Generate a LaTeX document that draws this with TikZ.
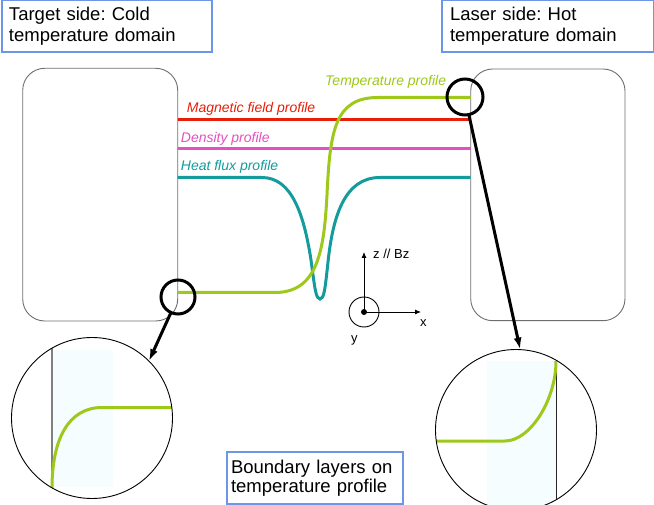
\documentclass[tikz,border=0pt]{standalone}
\usepackage{fontspec}
\setmainfont{Liberation Sans}
\usetikzlibrary{arrows.meta}
\definecolor{greenp}{RGB}{158,200,26}
\definecolor{redp}{RGB}{232,30,10}
\definecolor{magp}{RGB}{228,80,190}
\definecolor{tealp}{RGB}{20,155,155}
\definecolor{boxblue}{RGB}{110,150,232}
\definecolor{slabgray}{RGB}{110,110,110}
\definecolor{shadep}{RGB}{246,253,254}
\frenchspacing
\begin{document}
\begin{tikzpicture}[x=1pt,y=-1pt,
  infobox/.style={draw=boxblue, line width=1.2pt, align=left, inner xsep=7pt, inner ysep=0pt, outer sep=0pt, anchor=north west},
  slab/.style={draw=slabgray, line width=0.9pt, rounded corners=22pt, inner sep=0pt, outer sep=0pt},
  prof/.style={line width=3pt},
  lbl/.style={font=\fontsize{14}{16}\selectfont\itshape, inner sep=0pt, anchor=base west},
  lens/.style={draw, circle, line width=3pt, inner sep=0pt, outer sep=0pt},
  bigc/.style={draw, circle, line width=0.9pt, inner sep=0pt, outer sep=0pt, minimum size=161pt},
  bigarrow/.style={line width=3pt, -{Latex[length=12pt,width=8pt]}},
  axarrow/.style={line width=0.9pt, -{Latex[length=6pt,width=5pt]}},
  axlbl/.style={font=\fontsize{13}{15}\selectfont, inner sep=0pt, anchor=base west}
]
\useasboundingbox (0,0) rectangle (654,505);

% title boxes
\node[infobox, minimum width=210pt, minimum height=51.5pt, text width=196pt,
      font=\fontsize{18.5}{21.6}\selectfont] (tbox) at (2,0.5) {Target side: Cold\\temperature domain};
\node[infobox, minimum width=212pt, minimum height=51.5pt, text width=196pt, inner xsep=8pt,
      font=\fontsize{18.5}{21.6}\selectfont] (lbox) at (442,0.5) {Laser side: Hot\\temperature domain};
\node[infobox, minimum width=176pt, minimum height=52pt, text width=168pt, inner xsep=4pt,
      font=\fontsize{18.5}{19.5}\selectfont] (bbox) at (227,452) {Boundary layers on\\temperature profile};

% slabs
\node[slab, minimum width=155pt, minimum height=252.7pt] (lslab) at (100.2,194.65) {};
\node[slab, minimum width=154.3pt, minimum height=251.7pt] (rslab) at (547.85,194.85) {};

\coordinate (ymag) at (0,120);
\coordinate (yden) at (0,149);
\coordinate (yheat) at (0,177.5);
\coordinate (ytemp) at (0,97.5);
\coordinate (ylow) at (0,292.5);

% profiles
\draw[prof, redp] (lslab.east |- ymag) -- (rslab.west |- ymag);
\draw[prof, magp] (lslab.east |- yden) -- (rslab.west |- yden);
\draw[prof, tealp] (lslab.east |- yheat) -- (262,177.5)
  .. controls (292,177.5) and (304,215) .. (311,260)
  .. controls (315,290) and (316,299) .. (320,299)
  .. controls (324,299) and (325,290) .. (328,262)
  .. controls (333,215) and (345,177.5) .. (380,177.5)
  -- (rslab.west |- yheat);
\draw[prof, greenp] (lslab.east |- ylow) -- (275,292.5)
  .. controls (318,292.5) and (324,250) .. (327,195)
  .. controls (330,130) and (335,97.5) .. (378,97.5)
  -- (rslab.west |- ytemp);

\node[lbl, text=redp] (lmag) at (186.7,113) {Magnetic field profile};
\node[lbl, text=magp] (lden) at (180.7,142.7) {Density profile};
\node[lbl, text=tealp] (lheat) at (180.7,170.7) {Heat flux profile};
\node[lbl, text=greenp] (ltemp) at (325,86) {Temperature profile};

% axes
\coordinate (o) at (364,312);
\coordinate (zt) at (364,252);
\coordinate (xt) at (421,312);
\node[draw, circle, line width=0.9pt, minimum size=30pt, inner sep=0pt] (ycirc) at (o) {};
\fill (o) circle (3);
\draw[axarrow] (o) -- (zt);
\draw[axarrow] (o) -- (xt);
\node[axlbl] (zl) at (373,258.3) {z // Bz};
\node[axlbl] (xl) at (420,326.7) {x};
\node[axlbl] (yl) at (351,343) {y};

% magnified views
\begin{scope}
  \clip (92,418) circle (80.5);
  \fill[shadep] (52,350) rectangle (113,487);
  \draw[line width=1.2pt, gray] (52,330) -- (52,510);
  \draw[prof, greenp] (52,488) .. controls (52,440) and (68,407.5) .. (102,407.5) -- (180,407.5);
\end{scope}
\begin{scope}
  \clip (516,430) circle (80.5);
  \fill[shadep] (487,361) rectangle (556,515);
  \draw[line width=0.9pt, black!85] (556,340) -- (556,515);
  \draw[prof, greenp] (430,441) -- (505,441) .. controls (530,441) and (556,400) .. (556,361);
\end{scope}
\node[bigc] (bc1) at (92,418) {};
\node[bigc] (bc2) at (516,430) {};

% lenses
\node[lens, minimum size=34pt] (sc1) at (178,297) {};
\node[lens, minimum size=36pt] (sc2) at (465,97) {};
\draw[bigarrow] (sc1) -- (bc1.45);
\draw[bigarrow] (sc2) -- (bc2.87);
\end{tikzpicture}
\end{document}
